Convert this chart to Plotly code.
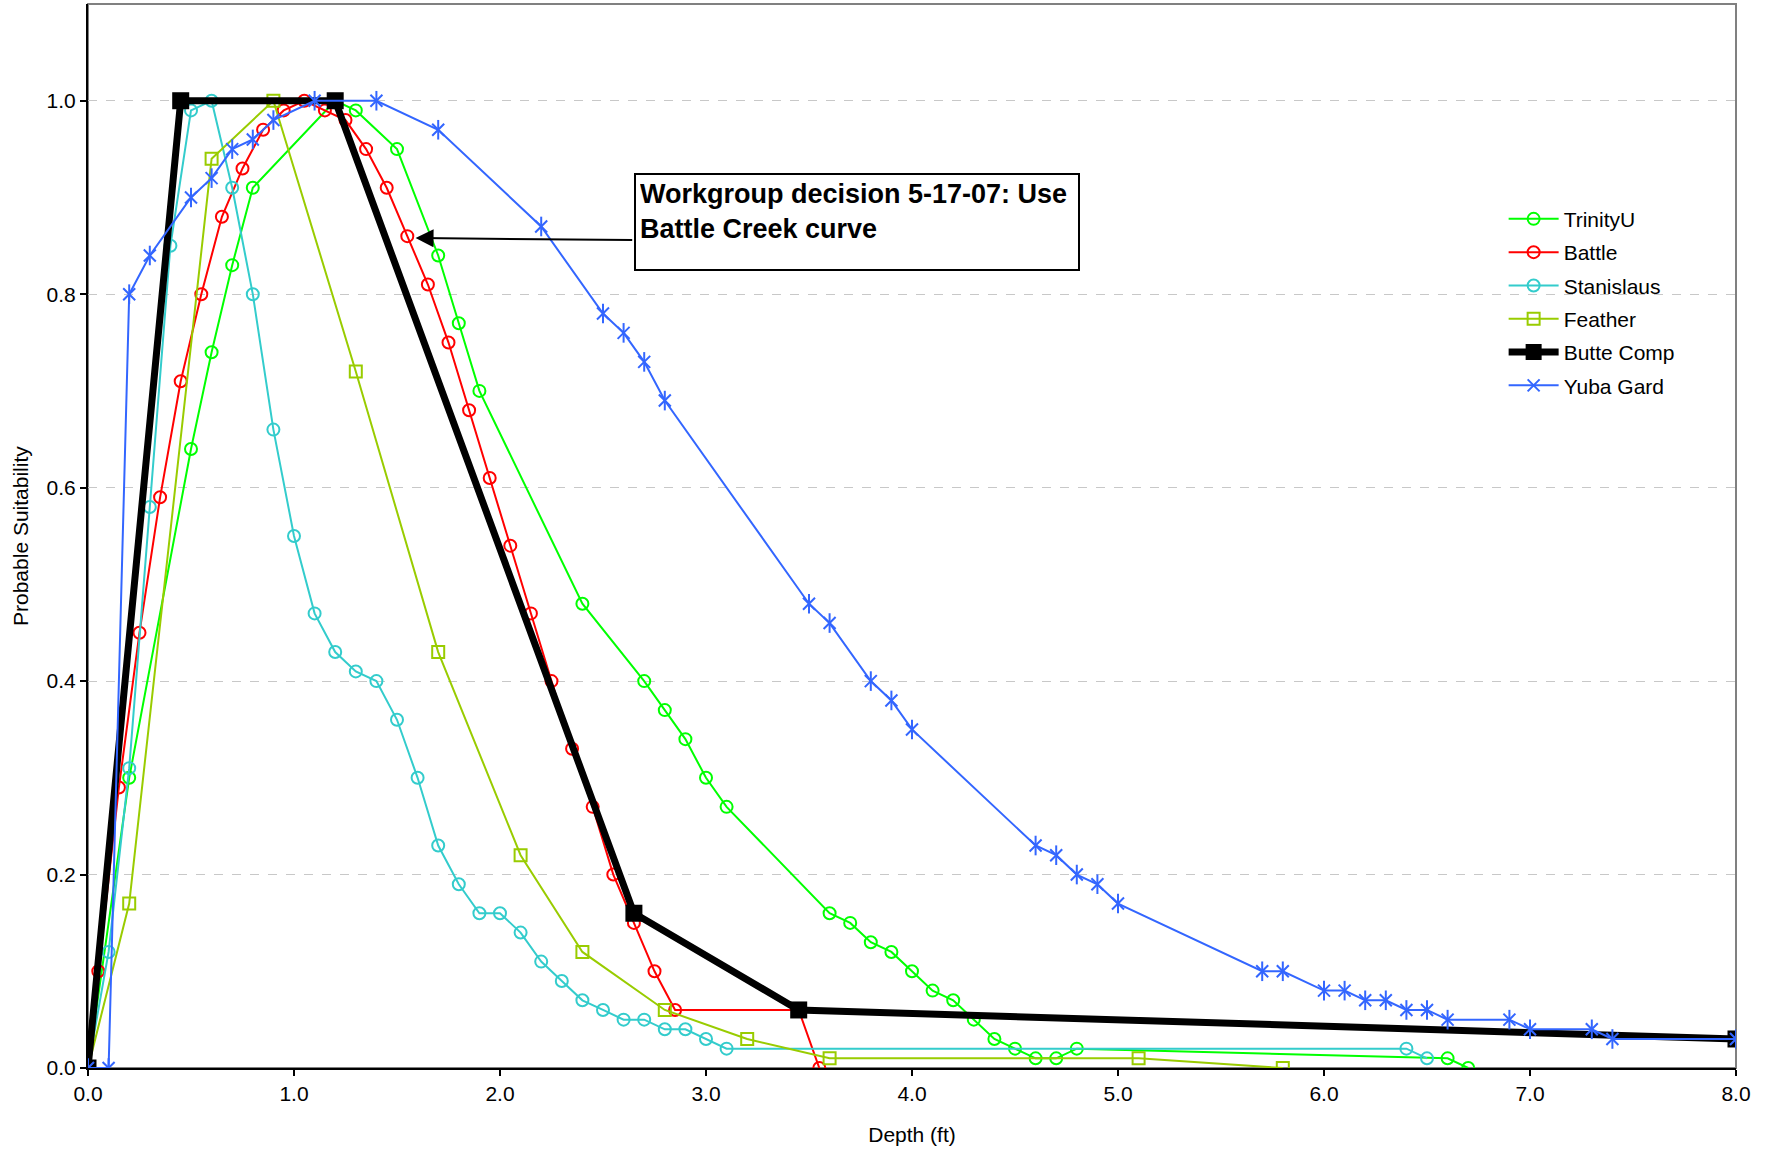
import plotly.graph_objects as go

# ---------------- data ----------------
trinity_x = [0, 0.2, 0.5, 0.6, 0.7, 0.8, 1.2, 1.3, 1.5, 1.7, 1.8, 1.9, 2.4, 2.7, 2.8, 2.9, 3.0, 3.1,
             3.6, 3.7, 3.8, 3.9, 4.0, 4.1, 4.2, 4.3, 4.4, 4.5, 4.6, 4.7, 4.8, 6.6, 6.7]
trinity_y = [0, 0.30, 0.64, 0.74, 0.83, 0.91, 1.0, 0.99, 0.95, 0.84, 0.77, 0.70, 0.48, 0.40, 0.37, 0.34, 0.30, 0.27,
             0.16, 0.15, 0.13, 0.12, 0.10, 0.08, 0.07, 0.05, 0.03, 0.02, 0.01, 0.01, 0.02, 0.01, 0.0]

battle_x = [0.05, 0.15, 0.25, 0.35, 0.45, 0.55, 0.65, 0.75, 0.85, 0.95, 1.05, 1.15, 1.25, 1.35, 1.45, 1.55,
            1.65, 1.75, 1.85, 1.95, 2.05, 2.15, 2.25, 2.35, 2.45, 2.55, 2.65, 2.75, 2.85, 3.45, 3.55]
battle_y = [0.10, 0.29, 0.45, 0.59, 0.71, 0.80, 0.88, 0.93, 0.97, 0.99, 1.0, 0.99, 0.98, 0.95, 0.91, 0.86,
            0.81, 0.75, 0.68, 0.61, 0.54, 0.47, 0.40, 0.33, 0.27, 0.20, 0.15, 0.10, 0.06, 0.06, 0.0]

stan_x = [0, 0.1, 0.2, 0.3, 0.4, 0.5, 0.6, 0.7, 0.8, 0.9, 1.0, 1.1, 1.2, 1.3, 1.4, 1.5, 1.6, 1.7, 1.8, 1.9,
          2.0, 2.1, 2.2, 2.3, 2.4, 2.5, 2.6, 2.7, 2.8, 2.9, 3.0, 3.1, 6.4, 6.5]
stan_y = [0, 0.12, 0.31, 0.58, 0.85, 0.99, 1.0, 0.91, 0.80, 0.66, 0.55, 0.47, 0.43, 0.41, 0.40, 0.36, 0.30, 0.23,
          0.19, 0.16, 0.16, 0.14, 0.11, 0.09, 0.07, 0.06, 0.05, 0.05, 0.04, 0.04, 0.03, 0.02, 0.02, 0.01]

feather_x = [0, 0.2, 0.6, 0.9, 1.3, 1.7, 2.1, 2.4, 2.8, 3.2, 3.6, 5.1, 5.8]
feather_y = [0, 0.17, 0.94, 1.0, 0.72, 0.43, 0.22, 0.12, 0.06, 0.03, 0.01, 0.01, 0.0]

butte_x = [0, 0.45, 1.2, 2.65, 3.45, 8.0]
butte_y = [0, 1.0, 1.0, 0.16, 0.06, 0.03]

yuba_x = [0, 0.1, 0.2, 0.3, 0.5, 0.6, 0.7, 0.8, 0.9, 1.1, 1.4, 1.7, 2.2, 2.5, 2.6, 2.7, 2.8, 3.5, 3.6, 3.8,
          3.9, 4.0, 4.6, 4.7, 4.8, 4.9, 5.0, 5.7, 5.8, 6.0, 6.1, 6.2, 6.3, 6.4, 6.5, 6.6, 6.9, 7.0, 7.3, 7.4, 8.0]
yuba_y = [0, 0, 0.80, 0.84, 0.90, 0.92, 0.95, 0.96, 0.98, 1.0, 1.0, 0.97, 0.87, 0.78, 0.76, 0.73, 0.69, 0.48,
          0.46, 0.40, 0.38, 0.35, 0.23, 0.22, 0.20, 0.19, 0.17, 0.10, 0.10, 0.08, 0.08, 0.07, 0.07, 0.06, 0.06,
          0.05, 0.05, 0.04, 0.04, 0.03, 0.03]

x_ticks = [0, 1, 2, 3, 4, 5, 6, 7, 8]
y_ticks = [0, 0.2, 0.4, 0.6, 0.8, 1.0]

note_lines = ["Workgroup decision 5-17-07: Use", "Battle Creek curve"]

FONT = "Liberation Sans, Arial, sans-serif"

fig = go.Figure()

def add_series(name, xs, ys, color, symbol, msize, lw=2, group=None, show=True, mode="lines+markers"):
    fig.add_trace(go.Scatter(
        x=xs, y=ys, name=name, mode=mode,
        legendgroup=group or name, showlegend=show,
        line=dict(color=color, width=lw),
        marker=dict(symbol=symbol, size=msize, color=color,
                    line=dict(color=color, width=2)),
    ))

add_series("TrinityU", trinity_x, trinity_y, "#00FF00", "circle-open", 12)
add_series("Battle", battle_x, battle_y, "#FF0000", "circle-open", 12)
add_series("Stanislaus", stan_x, stan_y, "#33CCCC", "circle-open", 12)
add_series("Feather", feather_x, feather_y, "#99CC00", "square-open", 12)
fig.add_trace(go.Scatter(
    x=butte_x, y=butte_y, name="Butte Comp", mode="lines+markers", legendgroup="Butte Comp",
    line=dict(color="#000000", width=7),
    marker=dict(symbol="square", size=17, color="#000000"),
))
add_series("Yuba Gard", yuba_x, yuba_y, "#3366FF", "x-thin-open", 12)
add_series("Yuba Gard", yuba_x, yuba_y, "#3366FF", "line-ns-open", 14, show=False, mode="markers")

# Plot-area border (gray)
fig.add_shape(type="rect", xref="paper", yref="paper", x0=0, y0=0, x1=1, y1=1,
              line=dict(color="#808080", width=2), layer="below")

# Text box annotation
fig.add_annotation(
    xref="x", yref="y", x=2.649, y=0.925, xanchor="left", yanchor="top",
    text="<br>".join("<b>" + s + "</b>" for s in note_lines),
    showarrow=False, align="left", valign="top",
    width=434, height=86, borderpad=4, bordercolor="#000000", borderwidth=2,
    bgcolor="#FFFFFF", font=dict(family=FONT, size=27, color="#000000"),
)
# Arrow to the Battle curve
fig.add_annotation(
    xref="x", yref="y", x=1.59, y=0.858, axref="x", ayref="y", ax=2.649, ay=0.856,
    text="", showarrow=True, arrowhead=2, arrowsize=1.8, arrowwidth=2, arrowcolor="#000000",
    standoff=0, startstandoff=0,
)
# Y-axis title
fig.add_annotation(
    xref="paper", yref="paper", x=0, y=0.5, xanchor="center", yanchor="middle",
    xshift=-68, textangle=-90, showarrow=False, text="Probable Suitability",
    font=dict(family=FONT, size=21, color="#000000"),
)

fig.update_layout(
    width=1773, height=1152,
    margin=dict(l=88, r=37, t=4, b=84),
    paper_bgcolor="#FFFFFF", plot_bgcolor="#FFFFFF",
    font=dict(family=FONT, size=21, color="#000000"),
    showlegend=True,
    legend=dict(x=0.859, y=0.817, xanchor="left", yanchor="top",
                bgcolor="rgba(0,0,0,0)", font=dict(size=21, family=FONT),
                tracegroupgap=3, itemwidth=50),
    xaxis=dict(range=[0, 8], tickvals=x_ticks, tickformat=".1f", automargin=False,
               showgrid=False, zeroline=False,
               showline=True, linecolor="#000000", linewidth=2,
               ticks="outside", ticklen=6, tickwidth=1.5, tickcolor="#000000",
               tickfont=dict(size=21, family=FONT),
               title=dict(text="Depth (ft)", font=dict(size=21, family=FONT), standoff=23)),
    yaxis=dict(range=[0, 1.1], tickvals=y_ticks, tickformat=".1f", automargin=False,
               showgrid=True, gridcolor="#C8C8C8", griddash="dash", gridwidth=1,
               zeroline=False,
               showline=True, linecolor="#000000", linewidth=2,
               ticks="outside", ticklen=6, tickwidth=1.5, tickcolor="#000000",
               tickfont=dict(size=21, family=FONT)),
)

fig.write_html("out.html", config={"displayModeBar": False},
               post_script="document.body.style.margin='0';document.body.style.padding='0';")
